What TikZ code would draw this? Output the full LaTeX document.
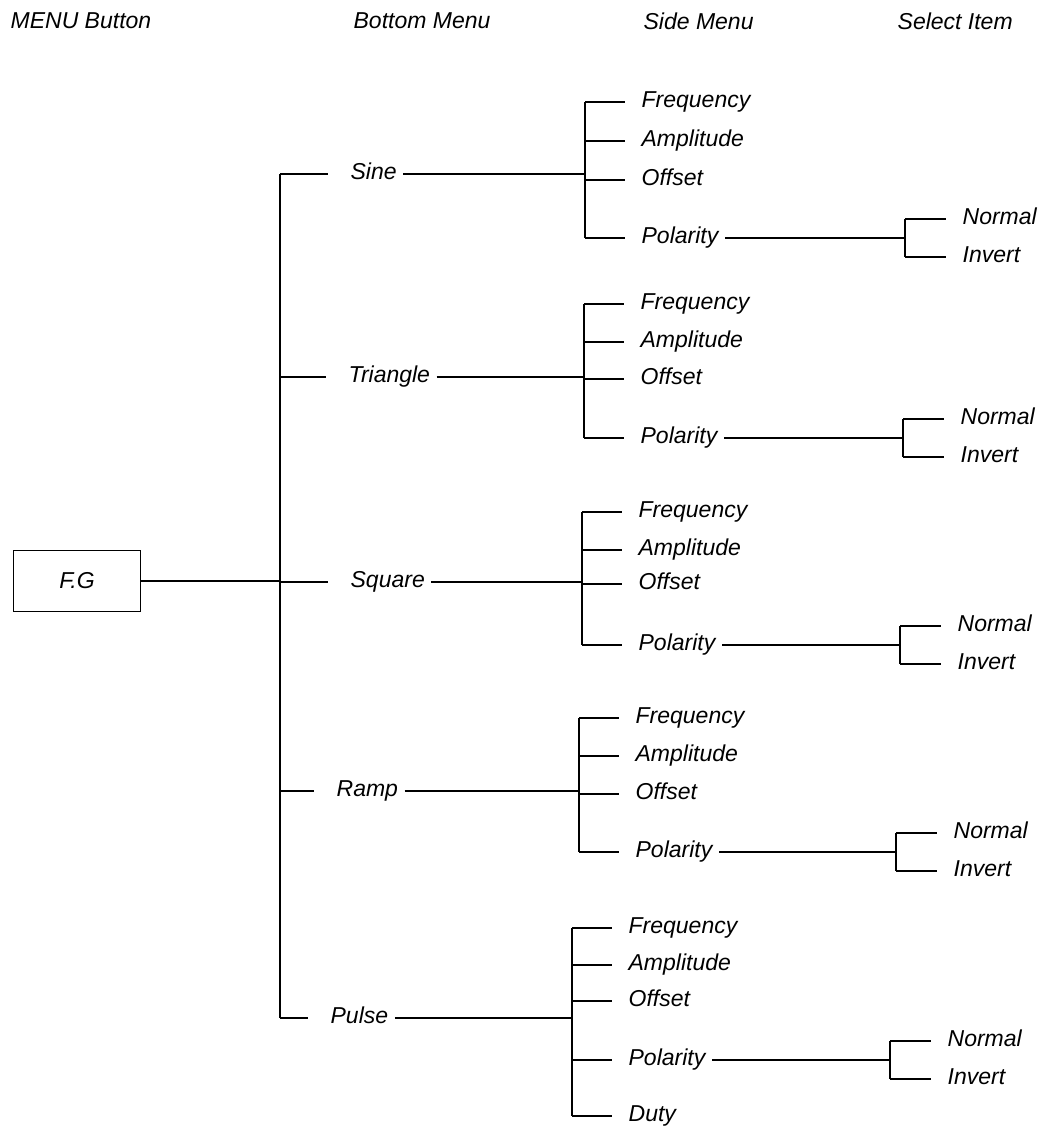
\documentclass[tikz,border=0pt]{standalone}
\usepackage{fontspec}
\setmainfont{Liberation Sans}
\begin{document}
\begin{tikzpicture}[x=1pt, y=1pt, line width=1.3pt,
  lbl/.style={font=\fontsize{23}{27}\selectfont\itshape, inner xsep=6pt, inner ysep=1pt, text height=16pt, text depth=5pt, anchor=west},
  head/.style={font=\fontsize{23}{27}\selectfont\itshape, inner sep=0pt, anchor=west},
  tick/.style={shorten >=10pt}]
  \useasboundingbox (0,0) rectangle (1050,-1138);
  % column titles
  \node[head] (h-menu) at (10,-21) {MENU Button};
  \node[head] (h-bottom) at (353,-21) {Bottom Menu};
  \node[head] (h-side) at (643,-21) {Side Menu};
  \node[head] (h-select) at (897,-21) {Select Item};
  % menu button and bottom menu trunk
  \node[draw, minimum width=127pt, minimum height=61pt, inner sep=0pt, font=\fontsize{23}{27}\selectfont\itshape] (fg) at (77,-581) {F.G};
  \coordinate (trunk-top) at (280,-174);
  \coordinate (trunk-bot) at (280,-1018);
  \draw (trunk-top) -- (trunk-bot);
  \draw (fg) -- (fg -| trunk-top);
  % one block per waveform
  \foreach \g/\txt/\by/\lx/\vx/\yf/\ya/\yo/\yp/\yb/\bx in {
      sine/Sine/174/344/585/102/141/180/238/238/905,
      tri/Triangle/377/342/584/304/342/379/438/438/903,
      squ/Square/582/344/582/512/550/584/645/645/900,
      ramp/Ramp/791/330/579/718/756/794/852/852/896,
      pulse/Pulse/1018/324/572/928/965/1001/1060/1116/890} {
    \node[lbl] (\g) at (\lx,-\by) {\txt};
    \draw[shorten >=16pt] (\g -| trunk-top) -- (\g);
    \coordinate (\g-top) at (\vx,-\yf);
    \coordinate (\g-bot) at (\vx,-\yb);
    \draw (\g-top) -- (\g-bot);
    \draw (\g) -- (\g -| \g-top);
    \node[lbl] (\g-freq) at (\vx+50,-\yf) {Frequency};
    \node[lbl] (\g-amp) at (\vx+50,-\ya) {Amplitude};
    \node[lbl] (\g-off) at (\vx+50,-\yo) {Offset};
    \node[lbl] (\g-pol) at (\vx+50,-\yp) {Polarity};
    \foreach \s in {freq,amp,off,pol}
      \draw[tick] (\g-\s -| \g-top) -- (\g-\s);
    % select items
    \coordinate (\g-bt) at (\bx,-\yp+19);
    \coordinate (\g-bb) at (\bx,-\yp-19);
    \draw (\g-bt) -- (\g-bb);
    \draw (\g-pol) -- (\g-pol -| \g-bt);
    \node[lbl] (\g-norm) at (\bx+51,-\yp+19) {Normal};
    \node[lbl] (\g-inv) at (\bx+51,-\yp-19) {Invert};
    \draw[tick] (\g-norm -| \g-bt) -- (\g-norm);
    \draw[tick] (\g-inv -| \g-bt) -- (\g-inv);
  }
  \node[lbl] (pulse-duty) at (622,-1116) {Duty};
  \draw[tick] (pulse-duty -| pulse-top) -- (pulse-duty);
\end{tikzpicture}
\end{document}
